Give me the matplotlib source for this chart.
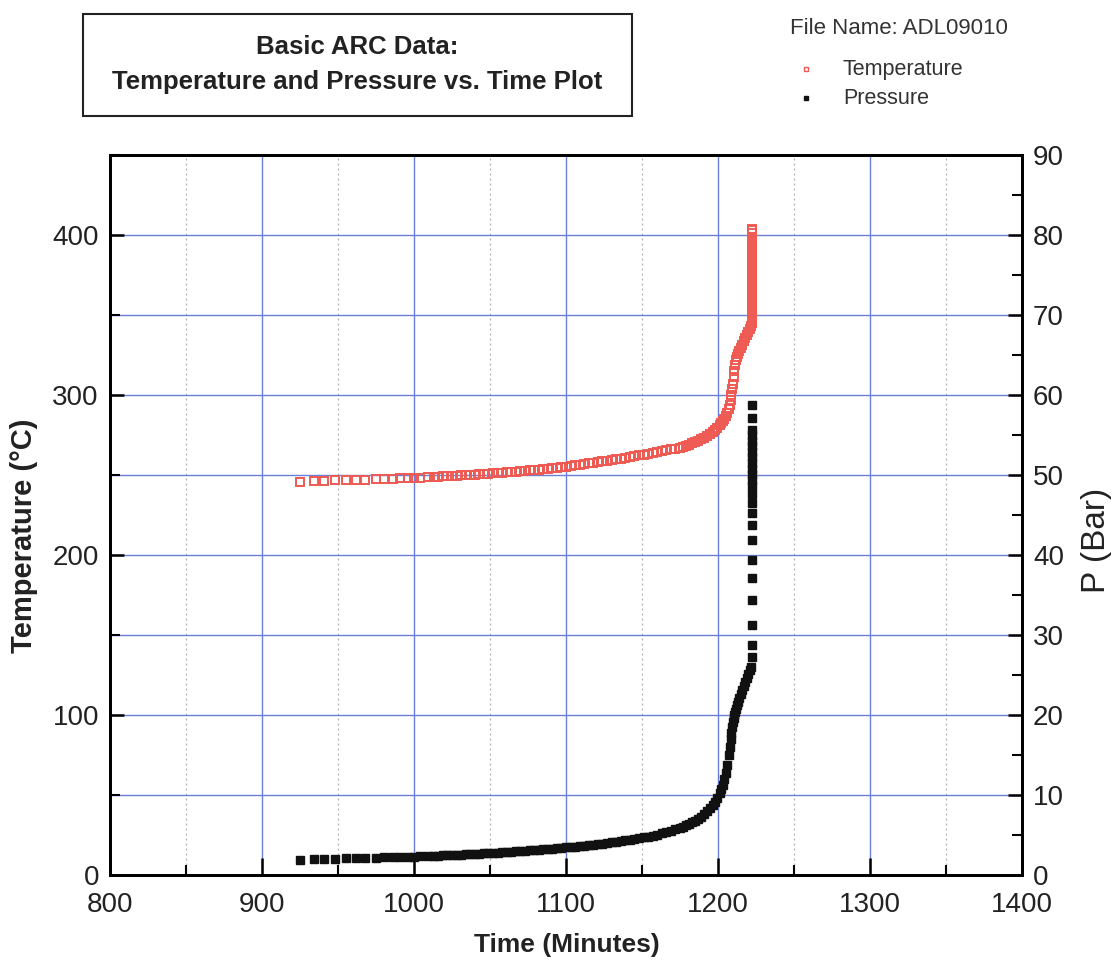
import numpy as np
import matplotlib
matplotlib.use("Agg")
import matplotlib.pyplot as plt
from matplotlib.patches import Rectangle
from matplotlib.ticker import MultipleLocator

plt.rcParams['font.family'] = ['Liberation Sans', 'DejaVu Sans']

# ---------- datos ----------
time_main = [925, 934, 941, 948, 955, 962, 968, 975, 980, 986, 991, 996, 1000, 1004, 1009, 1013,
             1016, 1019, 1022, 1025, 1028, 1031, 1034, 1037, 1040, 1043, 1046, 1049, 1052, 1055,
             1058, 1061, 1064, 1067, 1070, 1073, 1076, 1079, 1082, 1085, 1088, 1091, 1094, 1097,
             1100, 1103, 1106, 1109, 1112, 1115, 1118, 1121, 1124, 1127, 1130, 1133, 1136, 1139,
             1142, 1145, 1148, 1151, 1154, 1157, 1160, 1163, 1166, 1169, 1172, 1175, 1177, 1179,
             1181, 1183, 1185, 1187, 1189, 1191, 1193, 1195, 1196.5, 1198, 1199.5, 1201, 1202,
             1203, 1204, 1205, 1206, 1207, 1207.7, 1208.3, 1208.8, 1209.3, 1209.8, 1210.3, 1210.8,
             1211.2, 1211.6, 1212.3, 1213, 1214, 1215, 1216, 1217, 1218, 1219, 1220, 1221, 1222]

temp_main = [245.8, 246.1, 246.4, 246.6, 246.8, 247.0, 247.2, 247.4, 247.5, 247.7, 247.9, 248.0,
             248.2, 248.4, 248.6, 248.8, 249.0, 249.2, 249.3, 249.5, 249.6, 249.8, 249.9, 250.1,
             250.3, 250.5, 250.7, 250.9, 251.1, 251.3, 251.5, 251.7, 251.9, 252.1, 252.4, 252.6,
             252.9, 253.1, 253.4, 253.7, 254.0, 254.3, 254.6, 254.9, 255.3, 255.7, 256.1, 256.5,
             256.9, 257.3, 257.7, 258.1, 258.5, 258.9, 259.4, 259.8, 260.3, 260.8, 261.3, 261.8,
             262.3, 262.8, 263.3, 263.8, 264.3, 264.9, 265.4, 266.0, 266.5, 267.0, 267.6, 268.3,
             269.0, 269.8, 270.6, 271.5, 272.4, 273.4, 274.5, 275.7, 276.8, 278.0, 279.4, 281.0,
             282.3, 283.7, 285.3, 287.0, 289.0, 291.5, 294.0, 297.0, 300.0, 303.5, 307.0, 311.0,
             315.0, 319.0, 322.0, 324.0, 325.5, 327.5, 329.5, 331.5, 333.5, 335.5, 337.5, 339.5,
             341.5, 343.0]

pres_main = [1.9, 1.95, 2.0, 2.05, 2.1, 2.12, 2.15, 2.18, 2.2, 2.22, 2.25, 2.28, 2.3, 2.33, 2.36, 2.4,
             2.42, 2.45, 2.48, 2.5, 2.53, 2.56, 2.59, 2.62, 2.65, 2.68, 2.71, 2.74, 2.77, 2.8,
             2.84, 2.88, 2.92, 2.96, 3.0, 3.04, 3.08, 3.12, 3.16, 3.2, 3.25, 3.3, 3.35, 3.4,
             3.45, 3.5, 3.56, 3.62, 3.68, 3.74, 3.8, 3.87, 3.94, 4.01, 4.08, 4.16, 4.24, 4.32,
             4.41, 4.5, 4.6, 4.7, 4.81, 4.93, 5.05, 5.2, 5.35, 5.52, 5.7, 5.9, 6.05, 6.2,
             6.4, 6.6, 6.8, 7.05, 7.3, 7.6, 7.95, 8.35, 8.7, 9.1, 9.6, 10.2, 10.7,
             11.3, 12.0, 12.8, 13.8, 15.0, 16.0, 17.0, 17.8, 18.5, 19.1, 19.6, 20.0,
             20.4, 20.7, 21.2, 21.6, 22.1, 22.6, 23.1, 23.6, 24.1, 24.6, 25.1, 25.6, 26.0]

# tramo vertical final (t = 1222.3 min)
t_end = 1222.3
temp_tail = [345, 347, 349, 351, 353, 355, 357, 359, 361, 363, 365, 367, 369, 371, 373, 375, 377,
             379, 381, 383, 385, 387, 389, 391, 393, 395, 397, 399, 401, 403, 404]
pres_tail = [27.2, 28.8, 31.2, 34.4, 37.1, 39.4, 41.9, 43.8, 45.2, 46.5, 47.6, 48.6, 49.4, 50.1,
             50.8, 51.5, 52.2, 52.9, 53.6, 54.3, 55.0, 55.6, 57.1, 58.8]

time_T = time_main + [t_end] * len(temp_tail)
temp = temp_main + temp_tail
time_P = time_main + [t_end] * len(pres_tail)
pres = pres_main + pres_tail

red = "#ef5a52"
blue = "#6b7fd6"
ink = "#222222"

# ---------- figura ----------
fig = plt.figure(figsize=(11.19, 9.67), dpi=100)
ax = fig.add_axes([0.0983, 0.0951, 0.815, 0.7446])

ax.set_xlim(800, 1400)
ax.set_ylim(0, 450)
ax.xaxis.set_major_locator(MultipleLocator(100))
ax.xaxis.set_minor_locator(MultipleLocator(50))
ax.yaxis.set_major_locator(MultipleLocator(100))
ax.yaxis.set_minor_locator(MultipleLocator(50))

# rejilla
ax.grid(which="major", axis="x", color=blue, lw=1.0)
ax.grid(which="minor", axis="x", color="#b0b0b0", lw=0.9, ls=(0, (1.5, 2.5)))
ax.grid(which="both", axis="y", color=blue, lw=1.0)
ax.set_axisbelow(True)

ax.tick_params(which="major", direction="in", length=12, width=1.8, labelsize=20, pad=8,
               labelcolor=ink)
ax.tick_params(which="minor", direction="in", length=7, width=1.5)
ax.tick_params(axis="y", which="major", length=10)
ax.tick_params(axis="x", which="major", pad=12)
for s in ax.spines.values():
    s.set_linewidth(2)

ax.plot(time_T, temp, ls="none", marker="s", ms=5.2, mfc="none", mec=red, mew=1.4, zorder=3)

ax.set_xlabel("Time (Minutes)", fontsize=19, fontweight="bold", color=ink)
ax.xaxis.set_label_coords(0.501, -0.080)
ax.set_ylabel("Temperature (°C)", fontsize=21, fontweight="bold", color=ink)
ax.yaxis.set_label_coords(-0.079, 0.471)

ax2 = ax.twinx()
ax2.set_ylim(0, 90)
ax2.yaxis.set_major_locator(MultipleLocator(10))
ax2.yaxis.set_minor_locator(MultipleLocator(5))
ax2.tick_params(which="major", direction="in", length=10, width=1.8, labelsize=20, pad=8,
                labelcolor=ink)
ax2.tick_params(which="minor", direction="in", length=7, width=1.5)
for s in ax2.spines.values():
    s.set_linewidth(2)
ax2.plot(time_P, pres, ls="none", marker="s", ms=5.2, color="#111111", zorder=3)
fig.text(1096 / 1119, 1 - 540 / 967, "P (Bar)", rotation=90, ha="center", va="center",
         fontsize=24, color=ink)

# ---------- titulo en recuadro ----------
fig.patches.append(Rectangle((83 / 1119, 1 - 116 / 967), 549 / 1119, 102 / 967,
                             transform=fig.transFigure, fill=False, ec=ink, lw=1.5))
fig.text(357 / 1119, 1 - 47 / 967, "Basic ARC Data:", ha="center", va="center",
         fontsize=18.5, fontweight="bold", color=ink)
fig.text(357 / 1119, 1 - 82 / 967, "Temperature and Pressure vs. Time Plot", ha="center",
         va="center", fontsize=18.5, fontweight="bold", color=ink)

# ---------- leyenda ----------
fig.text(790 / 1119, 1 - 28 / 967, "File Name: ADL09010", ha="left", va="center", fontsize=16,
         color="#333333")
fig.lines.append(plt.Line2D([806 / 1119], [1 - 69 / 967], transform=fig.transFigure, ls="none",
                            marker="s", ms=3.5, mfc="none", mec=red, mew=1))
fig.text(843 / 1119, 1 - 69 / 967, "Temperature", ha="left", va="center", fontsize=15.5,
         color="#333333")
fig.lines.append(plt.Line2D([806 / 1119], [1 - 98 / 967], transform=fig.transFigure, ls="none",
                            marker="s", ms=3.5, color="#111111"))
fig.text(843 / 1119, 1 - 98 / 967, "Pressure", ha="left", va="center", fontsize=15.5,
         color="#333333")

fig.savefig("out.png", dpi=100)
